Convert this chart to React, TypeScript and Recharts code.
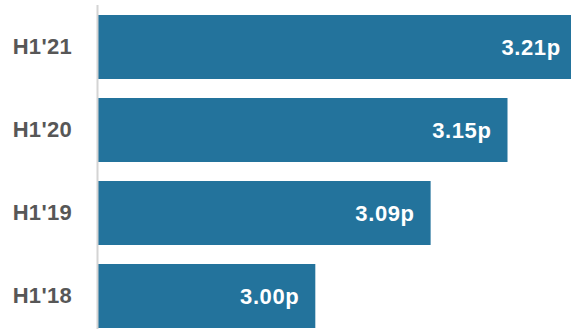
import React from "react";
import { BarChart, Bar, XAxis, YAxis, LabelList } from "recharts";

const categories = ["H1'21", "H1'20", "H1'19", "H1'18"];
const values = [3.204, 3.15, 3.09, 3.0];
const labels = ["3.21p", "3.15p", "3.09p", "3.00p"];

const data = categories.map((c, i) => ({ name: c, value: values[i], label: labels[i] }));

const FONT = "'Liberation Sans', Arial, Helvetica, sans-serif";

export default function App() {
  return (
    <div style={{ position: "absolute", top: 0, left: 0, width: 571, height: 329, overflow: "hidden", background: "#fff" }}>
      <BarChart
        width={610}
        height={345}
        data={data}
        layout="vertical"
        margin={{ top: 5, right: 0, left: 0, bottom: 8 }}
        barCategoryGap={0}
      >
        <XAxis type="number" hide domain={[2.83, 3.23]} allowDataOverflow />
        <YAxis
          type="category"
          dataKey="name"
          width={97.5}
          tickLine={false}
          tickSize={0}
          tickMargin={25.5}
          axisLine={{ stroke: "#d4d4d4", strokeWidth: 2 }}
          tick={{ fill: "#575757", fontSize: 22, fontWeight: "bold", fontFamily: FONT, letterSpacing: 0.3 }}
        />
        <Bar dataKey="value" fill="#23739c" barSize={64} isAnimationActive={false}>
          <LabelList
            dataKey="label"
            position="insideRight"
            offset={16}
            fill="#ffffff"
            style={{ fontSize: 22, fontWeight: "bold", fontFamily: FONT, letterSpacing: 0.6 }}
          />
        </Bar>
      </BarChart>
    </div>
  );
}
